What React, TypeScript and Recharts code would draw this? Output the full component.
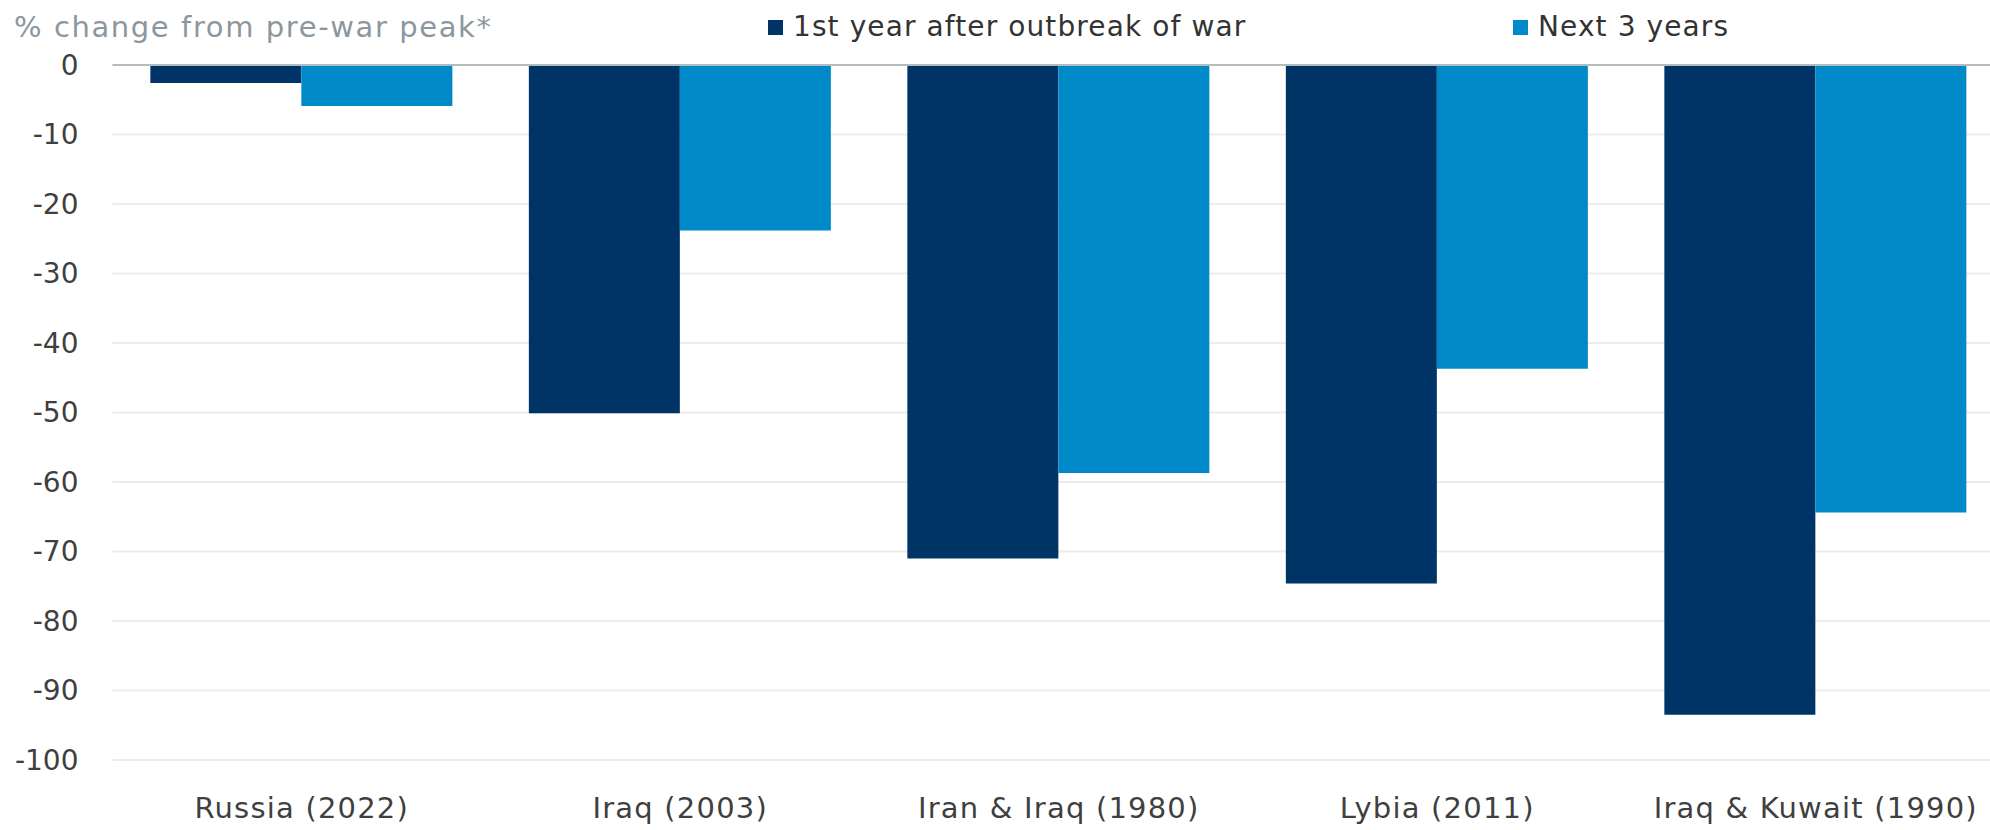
import React from 'react';
import { BarChart, Bar, XAxis, YAxis, CartesianGrid, ReferenceLine, Legend } from 'recharts';

const categories = ['Russia (2022)', 'Iraq (2003)', 'Iran & Iraq (1980)', 'Lybia (2011)', 'Iraq & Kuwait (1990)'];
const firstYear = [-2.6, -50.1, -71.0, -74.6, -93.5];
const nextThreeYears = [-5.9, -23.8, -58.7, -43.7, -64.4];
const yTicks = [0, -10, -20, -30, -40, -50, -60, -70, -80, -90, -100];
const seriesNames = ['1st year after outbreak of war', 'Next 3 years'];
const axisTitle = '% change from pre-war peak*';

const data = categories.map((c, i) => ({ category: c, first: firstYear[i], next: nextThreeYears[i] }));

const FONT = '"DejaVu Sans", sans-serif';
const DARK = '#003366';
const LIGHT = '#0089C9';

const LegendContent = (props: any) => {
  const payload = props.payload || [];
  return (
    <div style={{ display: 'flex', alignItems: 'center' }}>
      {payload.map((p: any, i: number) => (
        <div key={i} style={{ display: 'flex', alignItems: 'center', width: i === 0 ? 745 : 'auto' }}>
          <span style={{ display: 'inline-block', width: 15, height: 15, background: p.color, marginRight: 10 }} />
          <span style={{ fontFamily: FONT, fontSize: 28, color: '#333', letterSpacing: 1.1, lineHeight: '30px', whiteSpace: 'nowrap' }}>{p.value}</span>
        </div>
      ))}
    </div>
  );
};

export default function App() {
  return (
    <div style={{ position: 'fixed', left: 0, top: 0, width: 1990, height: 830, overflow: 'hidden', background: '#fff' }}>
      <div style={{ position: 'absolute', left: 14, top: 11, fontFamily: FONT, fontSize: 29, lineHeight: '32px', color: '#8c979d', letterSpacing: 1.6, whiteSpace: 'nowrap', zIndex: 2 }}>
        {axisTitle}
      </div>
      <BarChart
        width={2005}
        height={830}
        data={data}
        margin={{ top: 65, right: 0, bottom: 0, left: 0 }}
        barCategoryGap="10%"
        barGap={0}
      >
        <CartesianGrid vertical={false} stroke="#ececec" strokeWidth={2} />
        <XAxis
          dataKey="category"
          axisLine={false}
          tickLine={false}
          tickSize={0}
          tickMargin={37}
          height={70}
          interval={0}
          tick={{ fontFamily: FONT, fontSize: 29, fill: '#3f3f3f', letterSpacing: 1.2 }}
        />
        <YAxis
          domain={[-100, 0]}
          ticks={yTicks}
          width={112.5}
          axisLine={false}
          tickLine={false}
          tickSize={0}
          tickMargin={34}
          interval={0}
          tick={{ fontFamily: FONT, fontSize: 28, fill: '#3f3f3f' }}
        />
        <Legend
          layout="horizontal"
          verticalAlign="middle"
          align="center"
          wrapperStyle={{ top: 12, left: 768, width: 1100, height: 30 }}
          content={LegendContent}
        />
        <Bar dataKey="first" name={seriesNames[0]} fill={DARK} isAnimationActive={false} />
        <Bar dataKey="next" name={seriesNames[1]} fill={LIGHT} isAnimationActive={false} />
        <ReferenceLine y={0} stroke="#b3bcc1" strokeWidth={2} />
      </BarChart>
    </div>
  );
}
